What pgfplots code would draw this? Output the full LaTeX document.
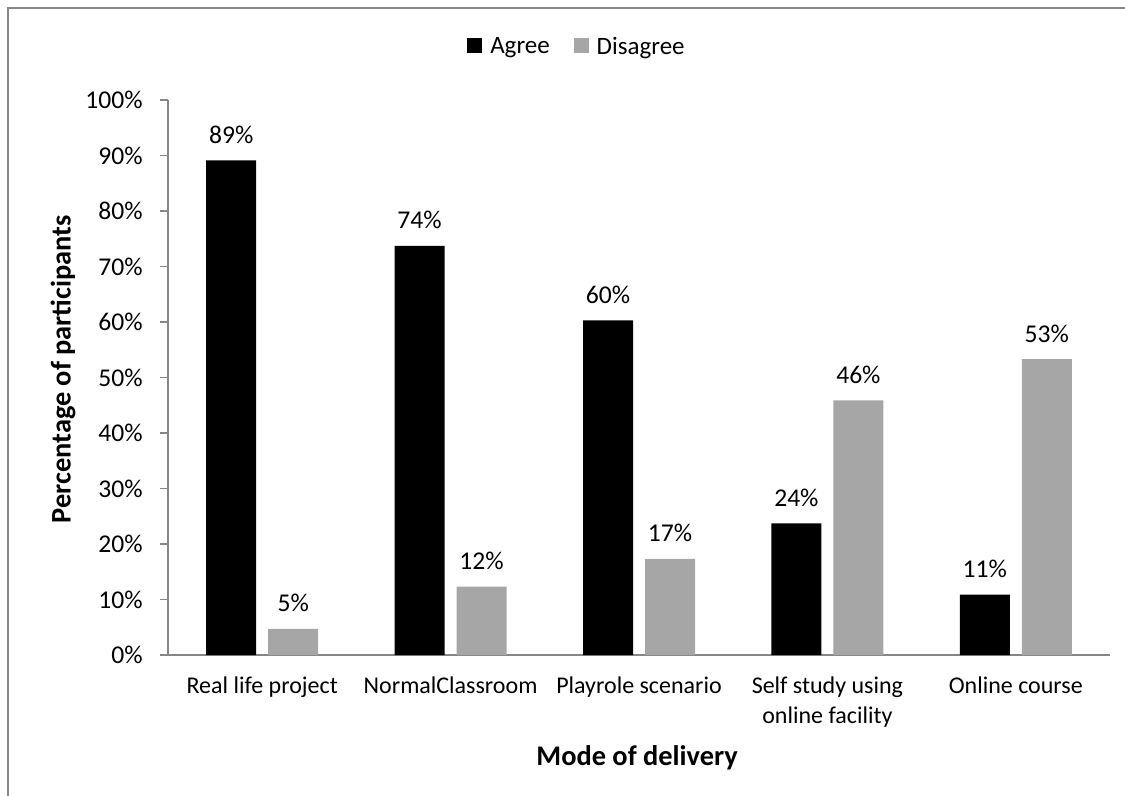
\documentclass[border=0pt]{standalone}
\usepackage{fontspec}
\setmainfont{Carlito}
\usepackage{pgfplots}
\pgfplotsset{compat=1.18}

\definecolor{agreecol}{HTML}{000000}
\definecolor{disagreecol}{HTML}{A6A6A6}
\definecolor{axiscol}{HTML}{868686}

\newcommand{\regfont}{\fontsize{12bp}{15bp}\selectfont}
\newcommand{\numfont}{\fontsize{12.8bp}{15bp}\selectfont}
\newcommand{\labfont}{\fontsize{14.2bp}{17bp}\selectfont\bfseries}

\begin{document}
\begin{tikzpicture}
\useasboundingbox (0,0) rectangle (562.5bp,398bp);
% chart frame (only top and left edges are inside the picture)
\draw[axiscol, line width=1bp] (4bp,0) -- (4bp,394bp) -- (562.5bp,394bp);

\begin{axis}[
    at={(84bp,70.5bp)},
    anchor=south west,
    scale only axis,
    width=471bp,
    height=277.5bp,
    ybar=6bp,
    bar width=25bp,
    xmin=-0.5, xmax=4.5,
    ymin=0, ymax=100,
    xtick=data,
    xticklabels={Real life project,NormalClassroom,Playrole scenario,{Self study using\\online facility},Online course},
    ytick={0,10,...,100},
    yticklabels={0\%,10\%,20\%,30\%,40\%,50\%,60\%,70\%,80\%,90\%,100\%},
    axis x line*=bottom,
    axis y line*=left,
    axis line style={axiscol, line width=0.75bp},
    x tick style={draw=none},
    y tick style={axiscol, line width=0.75bp},
    tick align=outside,
    major tick length=4bp,
    xticklabel style={font=\regfont, align=center, anchor=north, inner sep=0pt, yshift=-6.5bp},
    yticklabel style={font=\numfont, anchor=east, inner sep=0pt, xshift=-8.5bp},
    xlabel={Mode of delivery},
    ylabel={Percentage of participants},
    xlabel style={font=\labfont, at={(axis description cs:0.498,-0.185)}, anchor=center},
    ylabel style={font=\labfont, at={(axis description cs:-0.1115,0.515)}, anchor=center, rotate=0},
    nodes near coords={\pgfmathprintnumber[fixed,precision=0,assume math mode=true]{\pgfplotspointmeta}\%},
    every node near coord/.append style={font=\numfont, anchor=south, inner sep=0pt, yshift=8.2bp, text=black},
    legend style={at={(0.4352,1.0955)}, anchor=center, draw=none, fill=none,
        legend columns=2, font=\fontsize{12.5bp}{15bp}\selectfont,
        /tikz/every even column/.append style={column sep=10bp},
        legend cell align=left},
    legend image code/.code={\fill[#1] (0bp,-3bp) rectangle (7.5bp,4.5bp); \path (9.5bp,0bp);},
    clip=false,
]
\addplot[fill=agreecol, draw=none] coordinates {
    (0,89.1) (1,73.7) (2,60.3) (3,23.7) (4,10.9)
};
\addplot[fill=disagreecol, draw=none] coordinates {
    (0,4.7) (1,12.3) (2,17.3) (3,45.9) (4,53.3)
};
\legend{Agree,Disagree}
\end{axis}
\end{tikzpicture}
\end{document}
